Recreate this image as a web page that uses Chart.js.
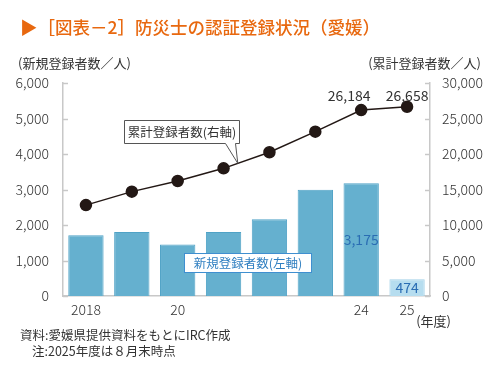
<!DOCTYPE html>
<html>
<head>
<meta charset="utf-8">
<script src="https://cdn.jsdelivr.net/npm/chart.js@4.4.0/dist/chart.umd.min.js"></script>
<style>
  html, body { margin: 0; padding: 0; background: #fff; }
  #wrap { position: relative; width: 500px; height: 375px; }
</style>
</head>
<body>
<div id="wrap"><canvas id="canvas" width="500" height="375"></canvas></div>
<script>
// data
var years = ['2018', '2019', '2020', '2021', '2022', '2023', '2024', '2025'];
var tickLabels = ['2018', '', '20', '', '', '', '24', '25'];
var newReg = [1710, 1800, 1450, 1800, 2160, 2990, 3175, 474];
var totalReg = [12800, 14700, 16200, 17980, 20250, 23150, 26184, 26658];

var FONT = '"Noto Sans CJK JP", "Noto Sans", sans-serif';
var barColors = newReg.map(function (v, i) { return i == newReg.length - 1 ? '#b6ddef' : '#65b0cf'; });
var barBorders = newReg.map(function (v, i) { return i == newReg.length - 1 ? '#a3d2e8' : '#4fa2c6'; });

function fmt(n) { return n.toString().replace(/\B(?=(\d{3})+(?!\d))/g, ','); }

// extra drawing: title, notes, callouts, data labels, inner tick marks
var decor = {
  id: 'decor',
  afterDraw: function (chart) {
    var ctx = chart.ctx;
    var ys = chart.scales.y, y1 = chart.scales.y1;
    ctx.save();

    // inner tick marks
    ctx.strokeStyle = '#c8c8c8';
    ctx.lineWidth = 1.5;
    ys.ticks.forEach(function (t, i) {
      var yy = Math.round(ys.getPixelForTick(i)) + 0.5;
      ctx.beginPath(); ctx.moveTo(ys.right, yy); ctx.lineTo(ys.right + 5, yy); ctx.stroke();
    });
    y1.ticks.forEach(function (t, i) {
      var yy = Math.round(y1.getPixelForTick(i)) + 0.5;
      ctx.beginPath(); ctx.moveTo(y1.left, yy); ctx.lineTo(y1.left - 5, yy); ctx.stroke();
    });

    // title
    ctx.fillStyle = '#e8680f';
    ctx.font = '500 17.5px ' + FONT;
    ctx.textBaseline = 'middle';
    ctx.textAlign = 'left';
    ctx.fillText('▶［図表－2］防災士の認証登録状況（愛媛）', 20, 27);

    // axis titles
    ctx.fillStyle = '#333';
    ctx.font = '13px ' + FONT;
    ctx.fillText('(新規登録者数／人)', 18, 63);
    ctx.textAlign = 'right';
    ctx.fillText('(累計登録者数／人)', 481, 63);
    ctx.fillText('(年度)', 451, 321);

    // notes
    ctx.textAlign = 'left';
    ctx.font = '12.5px ' + FONT;
    ctx.fillText('資料:愛媛県提供資料をもとにIRC作成', 20, 335);
    ctx.fillText('注:2025年度は８月末時点', 32, 351);

    // line labels
    var lineMeta = chart.getDatasetMeta(1);
    ctx.fillStyle = '#333';
    ctx.font = '14px ' + FONT;
    ctx.textAlign = 'center';
    var p6 = lineMeta.data[6], p7 = lineMeta.data[7];
    ctx.fillText(fmt(totalReg[6]), p6.x - 12, p6.y - 14);
    ctx.fillText(fmt(totalReg[7]), p7.x, p7.y - 11);

    // bar labels
    var barMeta = chart.getDatasetMeta(0);
    ctx.fillStyle = '#2a6db3';
    var b6 = barMeta.data[6], b7 = barMeta.data[7];
    ctx.fillText(fmt(newReg[6]), b6.x, ys.getPixelForValue(1600));
    ctx.fillText(fmt(newReg[7]), b7.x, ys.getPixelForValue(240));

    // callout for cumulative line
    var a = lineMeta.data[3], b = lineMeta.data[4];
    var tx = a.x + (b.x - a.x) * 0.31, ty = a.y + (b.y - a.y) * 0.31;
    ctx.fillStyle = '#fff';
    ctx.strokeStyle = '#555';
    ctx.lineWidth = 1;
    ctx.beginPath();
    ctx.moveTo(124.5, 120.5);
    ctx.lineTo(239.5, 120.5);
    ctx.lineTo(239.5, 143.5);
    ctx.lineTo(235.5, 143.5);
    ctx.lineTo(tx, ty);
    ctx.lineTo(225.5, 143.5);
    ctx.lineTo(124.5, 143.5);
    ctx.closePath();
    ctx.fill();
    ctx.stroke();
    ctx.fillStyle = '#333';
    ctx.font = '12.5px ' + FONT;
    ctx.fillText('累計登録者数(右軸)', 182, 132);

    // callout for bars
    ctx.fillStyle = '#fff';
    ctx.strokeStyle = '#3f8fd0';
    ctx.fillRect(184.5, 253.5, 127, 19);
    ctx.strokeRect(184.5, 253.5, 127, 19);
    ctx.fillStyle = '#2f7fc1';
    ctx.fillText('新規登録者数(左軸)', 248, 263);

    ctx.restore();
  }
};

var ctx = document.getElementById('canvas').getContext('2d');
var chart = new Chart(ctx, {
  data: {
    labels: years,
    datasets: [
      {
        type: 'bar',
        data: newReg,
        backgroundColor: barColors,
        borderColor: barBorders,
        borderWidth: 1,
        barPercentage: 0.77,
        categoryPercentage: 1,
        yAxisID: 'y',
        order: 2
      },
      {
        type: 'line',
        data: totalReg,
        borderColor: '#231815',
        borderWidth: 1.5,
        pointBackgroundColor: '#231815',
        pointBorderColor: '#231815',
        pointRadius: 5.5,
        tension: 0,
        yAxisID: 'y1',
        order: 1
      }
    ]
  },
  options: {
    responsive: false,
    animation: false,
    layout: { padding: { top: 83, bottom: 0, left: 0, right: 0 } },
    plugins: { legend: { display: false }, tooltip: { enabled: false } },
    scales: {
      x: {
        grid: { display: false },
        border: { color: '#c8c8c8', width: 1.5 },
        ticks: {
          padding: -3,
          color: '#333',
          font: { family: FONT, size: 14, weight: 300 },
          maxRotation: 0,
          autoSkip: false,
          callback: function (v, i) { return tickLabels[i]; }
        },
        afterFit: function (s) { s.height = 79; }
      },
      y: {
        position: 'left',
        min: 0, max: 6000,
        grid: { display: false },
        border: { color: '#c8c8c8', width: 1.5 },
        ticks: {
          stepSize: 1000,
          padding: 6,
          color: '#333',
          font: { family: FONT, size: 14, weight: 300 },
          callback: function (v) { return fmt(v); }
        },
        afterFit: function (s) { s.width = 63; }
      },
      y1: {
        position: 'right',
        min: 0, max: 30000,
        grid: { display: false },
        border: { color: '#c8c8c8', width: 1.5 },
        ticks: {
          stepSize: 5000,
          padding: 4,
          color: '#333',
          font: { family: FONT, size: 14, weight: 300 },
          callback: function (v) { return fmt(v); }
        },
        afterFit: function (s) { s.width = 70; }
      }
    }
  },
  plugins: [decor]
});
</script>
</body>
</html>
